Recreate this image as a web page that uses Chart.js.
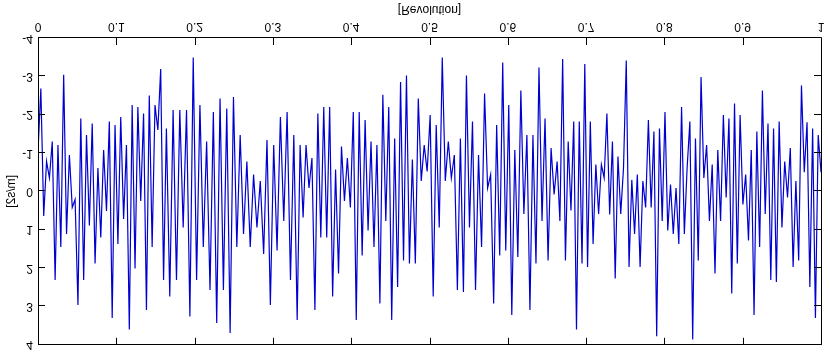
<!DOCTYPE html>
<html>
<head>
<meta charset="utf-8">
<script src="https://cdn.jsdelivr.net/npm/chart.js@4/dist/chart.umd.min.js"></script>
<style>
	html, body { margin: 0; padding: 0; background: #fff; }
	/* the reference is mirrored top-to-bottom, so the whole canvas is flipped */
	#lineChart { display: block; transform: scaleY(-1); }
</style>
</head>
<body>
<canvas id="lineChart" width="830" height="357"></canvas>
<script>
// acceleration peaks/troughs, one array per stretch of the revolution
const seg1 = [-1.04, -2.68, 0.64, -0.78, -0.35, -1.30, 2.31, -1.21, 1.45, -3.04, 1.11, -0.95, 0.42, 0.21, 2.96, -1.90, 2.31, -1.47, 0.89, -1.77, 1.88, -0.61, 1.20, -1.08, 0.51, -1.82, 3.30, -1.73, 1.37, -1.94, 0.72, -1.21, 3.60, -2.25, 2.01, -2.20, 0.25, -2.03, 3.09, -2.50, 1.45, -2.25, -1.60, -3.19, 2.31];
const seg2 = [-1.64, 2.74, -2.12, 2.31, -2.12, 0.94, -2.12, 3.26, -3.49, 2.31, -2.25, 1.45, -1.30, 2.57, -2.07, 3.43, -2.42, 2.57, -2.16, 3.69, -2.46, 1.45, -1.47, 1.11, -0.78, 1.45, -0.44, 0.94, -0.27, 1.63, -1.34, 2.96, -1.21, 1.54, -1.94, 0.77, -2.07, 2.31, -1.47];
const seg3 = [3.35, -1.21, 0.68, -1.21, -0.09, -0.87, 3.09, -2.03, 1.20, -2.20, 1.20, -2.20, 2.74, -0.57, 2.14, -1.17, 0.25, -0.87, 0.42, -2.07, 3.35, -2.07, 1.67, -1.86, 1.02, -1.30, 1.45, -1.21, 2.92, -2.52, 0.77, -2.20, 3.35, -1.38, 2.49, -2.85, 1.80, -3.02, 1.88, -0.83, 1.88, -2.42, -0.27, -1.21];
const seg4 = [-0.52, -1.99, 2.74, -1.73, 0.94, -3.49, -0.27, -1.30, -0.35, -0.95, 2.57, -1.38, 2.62, -3.02, 0.94, -1.82, 2.57, -0.95, 1.45, -2.55, -0.09, -0.44, 2.92, -1.73, 1.67, -3.36, 1.54, -2.25, 3.22, -1.08, 1.71, -2.63, 0.59, -1.47, 3.09, -1.47, 1.88, -3.23, 0.77, -1.90, 1.80, -1.13, 0.08];
const seg5 = [-0.78, 0.77, -3.45, 1.80, -1.30, 0.50, -1.82, 3.60, -1.82, 1.88, -3.32, 1.97, -1.82, 1.37, -0.70, 0.59, -0.70, -0.35, -2.03, 0.60, -1.30, 2.27, -0.91, 0.59, -0.61, -3.41, 1.97, -0.30, 1.11, -0.44, 1.97, -0.27, 0.42, -1.86, 0.42, -1.56, 3.78, -1.64, 0.77, -2.07, 1.02, -0.18, 1.11, -0.09, 1.37, -2.20, 1.11];
const seg6 = [-0.61, -1.82, 3.86, -1.38, 1.80, -2.98, -0.35, -1.21, 0.77, -0.70, 2.14, -1.08, 0.77, -1.99, 0.16, -1.90, 2.66, -2.29, 1.88, -1.99, 0.34, -0.44, 1.28, -1.08, 3.22, -1.56, 1.45, -2.63, 0.59, -1.77, 2.31, -1.64, 2.36, -1.82, 0.94, -0.78, 0.16, -1.13, 1.97, -0.27, 1.80, -2.76, -0.50, -1.80, 2.49, -1.64, 3.30, -1.47, -0.50];
// revolution where each stretch starts/ends
const segmentBounds = [0, 0.164, 0.331, 0.497, 0.663, 0.829, 1];

const xTicks = [0, 0.1, 0.2, 0.3, 0.4, 0.5, 0.6, 0.7, 0.8, 0.9, 1];
const yTicks = [-4, -3, -2, -1, 0, 1, 2, 3, 4];
const xTitle = "[Revolution]";
const yTitle = "[m/s2]";

const segments = [seg1, seg2, seg3, seg4, seg5, seg6];
const points = [];
segments.forEach((seg, s) => {
	const a = segmentBounds[s], b = segmentBounds[s + 1];
	seg.forEach((v, i) => {
		const last = s === segments.length - 1;
		const t = last ? i / (seg.length - 1) : i / seg.length;
		points.push({ x: a + (b - a) * t, y: v });
	});
});

const font = { family: "'Liberation Sans', Arial, sans-serif", size: 12 };

// box round the plot with short inward ticks on all four sides
const boxTicks = {
	id: "boxTicks",
	afterDraw(chart) {
		const { ctx, chartArea: a, scales } = chart;
		const len = 7;
		ctx.save();
		ctx.strokeStyle = "#000";
		ctx.lineWidth = 1;
		ctx.beginPath();
		ctx.rect(Math.round(a.left) + 0.5, Math.round(a.top) + 0.5, Math.round(a.right - a.left), Math.round(a.bottom - a.top));
		xTicks.forEach(v => {
			const px = Math.round(scales.x.getPixelForValue(v)) + 0.5;
			ctx.moveTo(px, a.bottom); ctx.lineTo(px, a.bottom - len);
			ctx.moveTo(px, a.top); ctx.lineTo(px, a.top + len);
		});
		yTicks.forEach(v => {
			const py = Math.round(scales.y.getPixelForValue(v)) + 0.5;
			ctx.moveTo(a.left, py); ctx.lineTo(a.left + len, py);
			ctx.moveTo(a.right, py); ctx.lineTo(a.right - len, py);
		});
		ctx.stroke();
		ctx.restore();
	}
};

const config = {
	type: "line",
	data: {
		datasets: [
			{
				data: points,
				borderColor: "#0000d0",
				borderWidth: 1.2,
				pointRadius: 0,
				tension: 0,
				fill: false,
			},
		],
	},
	options: {
		responsive: false,
		animation: false,
		layout: { padding: { top: 10, right: 9, left: 0, bottom: 0 } },
		plugins: { legend: { display: false }, tooltip: { enabled: false } },
		scales: {
			x: {
				type: "linear",
				min: 0,
				max: 1,
				afterFit(s) { s.height = 38; },
				afterBuildTicks(s) { s.ticks = xTicks.map(v => ({ value: v })); },
				grid: { display: false, drawTicks: false },
				border: { display: false },
				ticks: { padding: 4, color: "#000", font: font, maxRotation: 0, autoSkip: false, callback: v => String(v) },
				title: { display: true, text: xTitle, color: "#000", font: font, padding: { top: 0, bottom: 2 } },
			},
			y: {
				min: -4,
				max: 4,
				afterFit(s) { s.width = 38; },
				afterBuildTicks(s) { s.ticks = yTicks.map(v => ({ value: v })); },
				grid: { display: false, drawTicks: false },
				border: { display: false },
				ticks: { padding: 5, color: "#000", font: font, autoSkip: false, callback: v => String(v) },
				title: { display: true, text: yTitle, color: "#000", font: font, padding: { top: 4, bottom: 0 } },
			},
		},
	},
	plugins: [boxTicks],
};

const lineChart = new Chart(document.getElementById("lineChart").getContext("2d"), config);
</script>
</body>
</html>
